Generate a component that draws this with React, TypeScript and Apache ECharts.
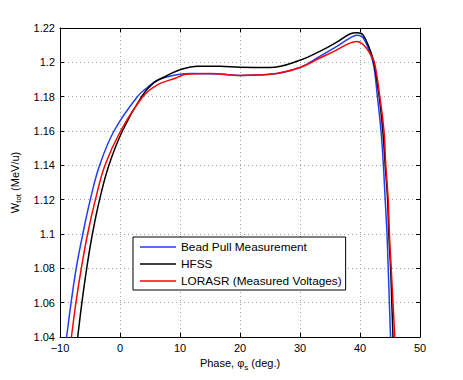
import React, { useEffect, useRef } from "react";
import * as echarts from "echarts";

// Bead Pull Measurement
const phaseBead = [-9.3, -8.9, -8.15, -7.3, -6.2, -4.95, -3.4, -1.0, 2.9, 4.6, 6.5, 9.5, 12, 16.7, 20, 25, 30, 33.3, 36, 38.3, 39.5, 40.5, 41.7, 42.3, 42.9, 43.5, 43.9, 44.2, 44.5, 44.7, 44.9, 45.1, 45.3];
const wBead = [1.029, 1.04, 1.06, 1.08, 1.1, 1.12, 1.14, 1.16, 1.18, 1.1855, 1.19, 1.1928, 1.1935, 1.1932, 1.1924, 1.193, 1.197, 1.2035, 1.209, 1.2141, 1.2158, 1.2145, 1.2052, 1.198, 1.18, 1.16, 1.14, 1.12, 1.1, 1.08, 1.06, 1.04, 1.03];

// HFSS
const phaseHfss = [-7.4, -7.05, -6.35, -5.55, -4.6, -3.4, -1.85, 0.4, 3.6, 5.6, 7.8, 10, 13, 16.7, 20, 25, 30, 33.3, 36, 38.3, 39.5, 40.5, 41.7, 42.3, 43.2, 43.8, 44.2, 44.6, 44.8, 45.1, 45.3, 45.5, 45.6];
const wHfss = [1.03, 1.04, 1.06, 1.08, 1.1, 1.12, 1.14, 1.16, 1.18, 1.188, 1.1922, 1.1957, 1.1977, 1.1977, 1.1971, 1.197, 1.2012, 1.2064, 1.2115, 1.2165, 1.2172, 1.216, 1.207, 1.2, 1.18, 1.16, 1.14, 1.12, 1.1, 1.08, 1.06, 1.04, 1.03];

// LORASR (Measured Voltages)
const phaseLorasr = [-8.5, -8.1, -7.35, -6.45, -5.4, -4.1, -2.5, 0.1, 3.8, 6.3, 9.2, 11, 15, 20, 25, 30, 33.3, 36, 38.3, 39.5, 40.5, 41.7, 42.4, 43.3, 44.0, 44.3, 44.7, 44.9, 45.2, 45.5, 45.8, 45.95];
const wLorasr = [1.03, 1.04, 1.06, 1.08, 1.1, 1.12, 1.14, 1.16, 1.18, 1.187, 1.1907, 1.193, 1.1935, 1.1924, 1.193, 1.197, 1.2025, 1.207, 1.2112, 1.2122, 1.2105, 1.205, 1.2, 1.18, 1.16, 1.14, 1.12, 1.1, 1.08, 1.06, 1.04, 1.03];

const seriesNames = ["Bead Pull Measurement", "HFSS", "LORASR (Measured Voltages)"];
const seriesColors = ["#1f3dff", "#000000", "#ff0000"];

const xMin = -10, xMax = 50, xStep = 10;
const yMin = 1.04, yMax = 1.22, yStep = 0.02;

const zip = (xs: number[], ys: number[]) => xs.map((x, i) => [x, ys[i]]);

const FONT = "Liberation Sans, Arial, Helvetica, sans-serif";

export default function App() {
  const ref = useRef<HTMLDivElement>(null);
  useEffect(() => {
    if (!ref.current) return;
    const chart = echarts.init(ref.current, null, { renderer: "svg" });
    const axisLine = { show: true, onZero: false, lineStyle: { color: "#000", width: 1 } };
    const tickIn = { show: true, inside: true, length: 4, lineStyle: { color: "#000" } };
    const grid = { show: true, lineStyle: { color: "#a0a0a0", type: [1, 3], width: 1 } };
    const labelStyle = { color: "#000", fontSize: 11, fontFamily: FONT };
    const datas = [zip(phaseBead, wBead), zip(phaseHfss, wHfss), zip(phaseLorasr, wLorasr)];
    chart.setOption({
      animation: false,
      backgroundColor: "#fff",
      grid: { left: 60, right: 43, top: 28, bottom: 43, containLabel: false },
      legend: {
        orient: "vertical",
        left: 133,
        top: 237,
        data: seriesNames,
        icon: "rect",
        itemWidth: 36,
        itemHeight: 1.5,
        itemGap: 3,
        padding: [3, 4, 2, 7],
        borderColor: "#000",
        borderWidth: 1,
        backgroundColor: "#fff",
        textStyle: { color: "#000", fontSize: 11.8, fontFamily: FONT, lineHeight: 14 },
      },
      xAxis: [
        {
          type: "value",
          min: xMin,
          max: xMax,
          interval: xStep,
          axisLine,
          axisTick: tickIn,
          splitLine: grid,
          axisLabel: {
            ...labelStyle,
            margin: 5,
            formatter: (v: number) => String(v).replace("-", "\u2212"),
          },
          name: "Phase, {phi|φ}{sub|s} (deg.)",
          nameLocation: "middle",
          nameGap: 17,
          nameTextStyle: {
            ...labelStyle,
            rich: {
              phi: { fontSize: 11, fontFamily: FONT, color: "#000" },
              sub: { fontSize: 8, fontFamily: FONT, color: "#000", padding: [8, 0, 0, 0] },
            },
          },
        },
        {
          type: "value",
          position: "top",
          min: xMin,
          max: xMax,
          interval: xStep,
          axisLine,
          axisTick: tickIn,
          splitLine: { show: false },
          axisLabel: { show: false },
        },
      ],
      yAxis: [
        {
          type: "value",
          min: yMin,
          max: yMax,
          interval: yStep,
          axisLine,
          axisTick: tickIn,
          splitLine: grid,
          axisLabel: {
            ...labelStyle,
            margin: 5,
            formatter: (v: number) => String(Math.round(v * 100) / 100),
          },
          name: "W{sub|tot} (MeV/u)",
          nameLocation: "middle",
          nameGap: 35,
          nameTextStyle: {
            ...labelStyle,
            rich: {
              sub: { fontSize: 8, fontFamily: FONT, color: "#000", padding: [8, 0, 0, 0] },
            },
          },
        },
        {
          type: "value",
          position: "right",
          min: yMin,
          max: yMax,
          interval: yStep,
          axisLine,
          axisTick: tickIn,
          splitLine: { show: false },
          axisLabel: { show: false },
        },
      ],
      series: seriesNames.map((name, i) => ({
        name,
        type: "line",
        data: datas[i],
        symbol: "none",
        smooth: 0.4,
        clip: true,
        lineStyle: { color: seriesColors[i], width: 1.5 },
        itemStyle: { color: seriesColors[i] },
      })),
    });
    return () => chart.dispose();
  }, []);
  return (
    <div
      ref={ref}
      style={{ position: "absolute", left: 0, top: 0, width: 463, height: 380, background: "#fff" }}
    />
  );
}
